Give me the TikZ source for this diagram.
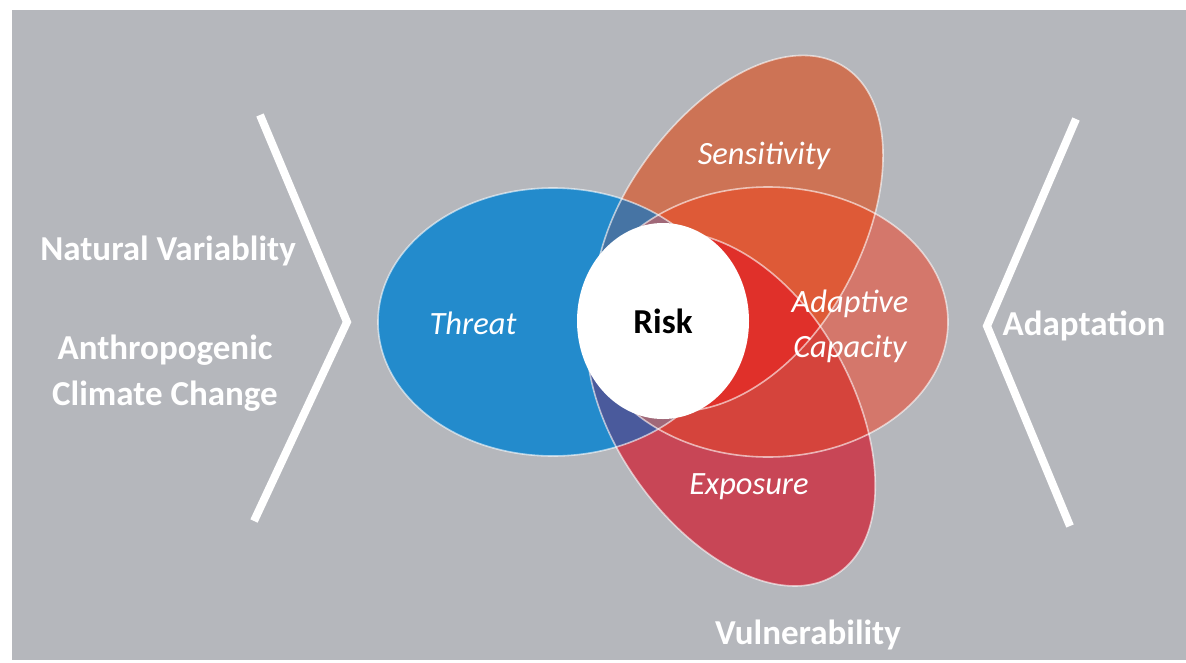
\documentclass[tikz,border=0pt]{standalone}
\usepackage{fontspec}
\setmainfont{Carlito}
\usetikzlibrary{shapes.geometric}

\definecolor{panelgray}{HTML}{B5B7BC}
\definecolor{threatblue}{HTML}{238BCC}
\definecolor{sensorange}{HTML}{CD7355}
\definecolor{adaptsalmon}{HTML}{D4776B}
\definecolor{expocrimson}{HTML}{C84656}
\definecolor{tscol}{HTML}{4674A4}
\definecolor{tecol}{HTML}{4A5A9C}
\definecolor{sacol}{HTML}{DE5A37}
\definecolor{aecol}{HTML}{D5443C}
\definecolor{saecol}{HTML}{E0302A}
\definecolor{tacol}{HTML}{A06878}

% the four petals (sensitivity and exposure are egg shaped)
\newcommand{\threatpath}{(553,322) ellipse [x radius=175, y radius=134]}
\newcommand{\adaptpath}{(768,322) ellipse [x radius=180, y radius=135]}
\newcommand{\senspath}{[shift={(734,242)}, rotate=58] (0,119)
  arc [start angle=90, end angle=-90, x radius=207, y radius=119]
  arc [start angle=-90, end angle=-270, x radius=185, y radius=119] -- cycle}
\newcommand{\expopath}{[shift={(727,401)}, rotate=-58] (0,119)
  arc [start angle=90, end angle=-90, x radius=205, y radius=119]
  arc [start angle=-90, end angle=-270, x radius=185, y radius=119] -- cycle}

\tikzset{
  petal edge/.style={draw=white, draw opacity=0.6, line width=1.6pt},
  petal label/.style={text=white, font=\fontsize{32.5}{45}\selectfont\itshape, align=center},
  outer label/.style={text=white, font=\fontsize{35}{46}\selectfont\bfseries, align=center},
  chevron/.style={draw=white, line width=8pt, line join=miter},
}

\begin{document}
\begin{tikzpicture}[x=1pt,y=-1pt]
  \useasboundingbox (0,0) rectangle (1186,662);
  \fill[panelgray] (12,10) rectangle (1186,660);

  \fill[threatblue] \threatpath;
  \fill[sensorange] \senspath;
  \fill[adaptsalmon] \adaptpath;
  \fill[expocrimson] \expopath;

  % overlaps
  \begin{scope}
    \clip \threatpath;
    \fill[tscol] \senspath;
    \fill[tecol] \expopath;
  \end{scope}
  \begin{scope}
    \clip \adaptpath;
    \fill[sacol] \senspath;
    \fill[aecol] \expopath;
  \end{scope}
  \begin{scope}
    \clip \adaptpath;
    \clip \senspath;
    \fill[saecol] \expopath;
  \end{scope}
  \begin{scope}
    \clip \threatpath;
    \clip \adaptpath;
    \fill[tacol] \senspath;
    \fill[tacol] \expopath;
  \end{scope}

  \draw[petal edge] \threatpath;
  \draw[petal edge] \senspath;
  \draw[petal edge] \adaptpath;
  \draw[petal edge] \expopath;

  \node (risk) at (663,321) [ellipse, fill=white, inner sep=0pt,
    minimum width=172pt, minimum height=196pt,
    font=\fontsize{35}{40}\selectfont\bfseries] {Risk};

  \node (threat) at (473,323) [petal label] {Threat};
  \node (sens) at (764,156) [petal label] {Sensitivity};
  \node (adapt) at (850,326) [petal label] {Adaptive\\Capacity};
  \node (expo) at (749,487) [petal label] {Exposure};

  \node (natvar) at (168,251) [outer label] {Natural Variablity};
  \node (anthro) at (165,373) [outer label] {Anthropogenic\\Climate Change};
  \node (adaptation) at (1084,326) [outer label] {Adaptation};
  \node (vuln) at (808,635) [outer label] {Vulnerability};

  % chevrons
  \coordinate (lt) at (260,115);
  \coordinate (lm) at (347,322);
  \coordinate (lb) at (254,521);
  \coordinate (rt) at (1076,119);
  \coordinate (rm) at (987,326);
  \coordinate (rb) at (1070,526);
  \draw[chevron] (lt) -- (lm) -- (lb);
  \draw[chevron] (rt) -- (rm) -- (rb);
\end{tikzpicture}
\end{document}
